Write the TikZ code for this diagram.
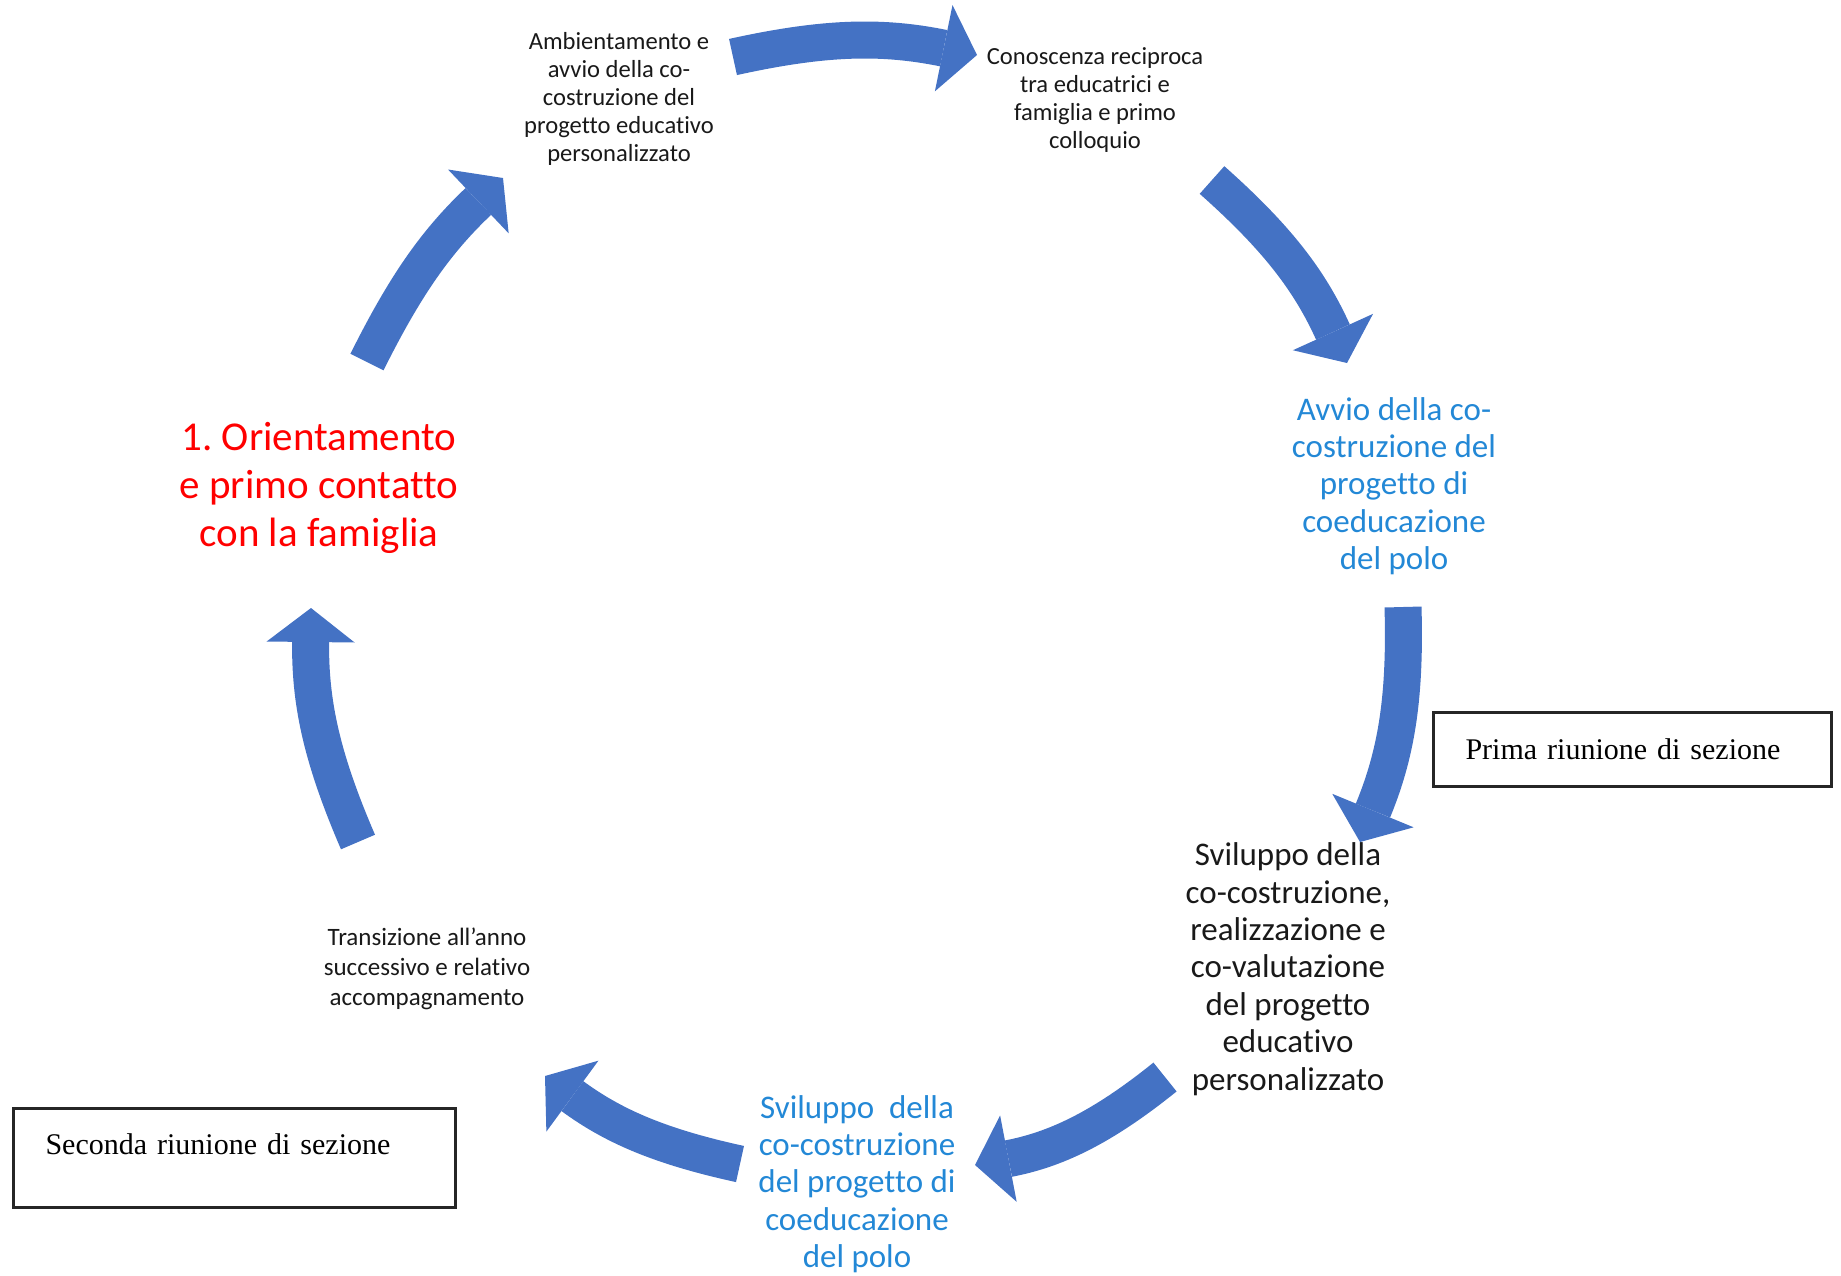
\documentclass[tikz,border=0pt]{standalone}
\usepackage{fontspec}
\setmainfont[Ligatures=NoCommon]{Carlito}
\newfontfamily\boxfont{Liberation Serif}
\usepackage{tikz}
\usetikzlibrary{arrows.meta,positioning}
\definecolor{arrowblue}{HTML}{4472C4}
\definecolor{stageblue}{HTML}{2388D6}
\definecolor{stagered}{HTML}{FF0000}
\frenchspacing

\begin{document}
\begin{tikzpicture}[
  x=0.5pt, y=-0.5pt,
  small/.style={align=center, text=black!90, font=\fontsize{12.3}{14}\selectfont},
  mid/.style={align=center, font=\fontsize{16.5}{18.7}\selectfont},
  big/.style={align=center, text=stagered, font=\fontsize{20.5}{24}\selectfont},
  meeting/.style={draw=black!85, line width=1.5pt, align=left, inner xsep=16pt,
                  font=\boxfont\fontsize{15}{18}\selectfont},
  flow/.style={draw=arrowblue, line width=18.5pt,
               -{Triangle[width=44pt, length=17pt, line width=0pt]}}
]
\useasboundingbox (0,0) rectangle (1841,1275);

\node[small] (ambient) at (619,99) {Ambientamento e\\avvio della co-\\costruzione del\\progetto educativo\\personalizzato};
\node[small] (conosc) at (1095,100) {Conoscenza reciproca\\tra educatrici e\\famiglia e primo\\colloquio};
\node[mid, text=stageblue] (avvio) at (1394,486) {Avvio della co-\\costruzione del\\progetto di\\coeducazione\\del polo};
\node[mid, text=black!90] (svilnero) at (1288,969) {Sviluppo della\\co-costruzione,\\realizzazione e\\co-valutazione\\del progetto\\educativo\\personalizzato};
\node[mid, text=stageblue] (svilblu) at (857,1184) {Sviluppo\ \ della\\co-costruzione\\del progetto di\\coeducazione\\del polo};
\node[small, font=\fontsize{12.5}{15}\selectfont] (transiz) at (427,969) {Transizione all'anno\\successivo e relativo\\accompagnamento};
\node[big] (orient) at (319,488) {1. Orientamento\\e primo contatto\\con la famiglia};

\node[meeting, anchor=north west, text width=167pt, minimum height=37pt] (prima) at (1432,711) {Prima riunione di sezione};
\node[meeting, anchor=north west, text width=189pt, minimum height=49.5pt, text depth=14pt] (seconda) at (12,1107) {Seconda riunione di sezione};

\coordinate (a1s) at (733,57);   \coordinate (a1e) at (977,55);
\coordinate (a2s) at (1212,180); \coordinate (a2e) at (1347,363);
\coordinate (a3s) at (1403,607); \coordinate (a3e) at (1360,842);
\coordinate (a4s) at (1165,1077);\coordinate (a4e) at (975,1165);
\coordinate (a5s) at (740,1164); \coordinate (a5e) at (545,1076);
\coordinate (a6s) at (358,842);  \coordinate (a6e) at (311,608);
\coordinate (a7s) at (367,362);  \coordinate (a7e) at (503,178);

\draw[flow] (a1s) to[bend left=12] (a1e);
\draw[flow] (a2s) to[bend left=12] (a2e);
\draw[flow] (a3s) to[bend left=12] (a3e);
\draw[flow] (a4s) to[bend left=14] (a4e);
\draw[flow] (a5s) to[bend left=12] (a5e);
\draw[flow] (a6s) to[bend left=12] (a6e);
\draw[flow] (a7s) to[bend left=10] (a7e);
\end{tikzpicture}
\end{document}
